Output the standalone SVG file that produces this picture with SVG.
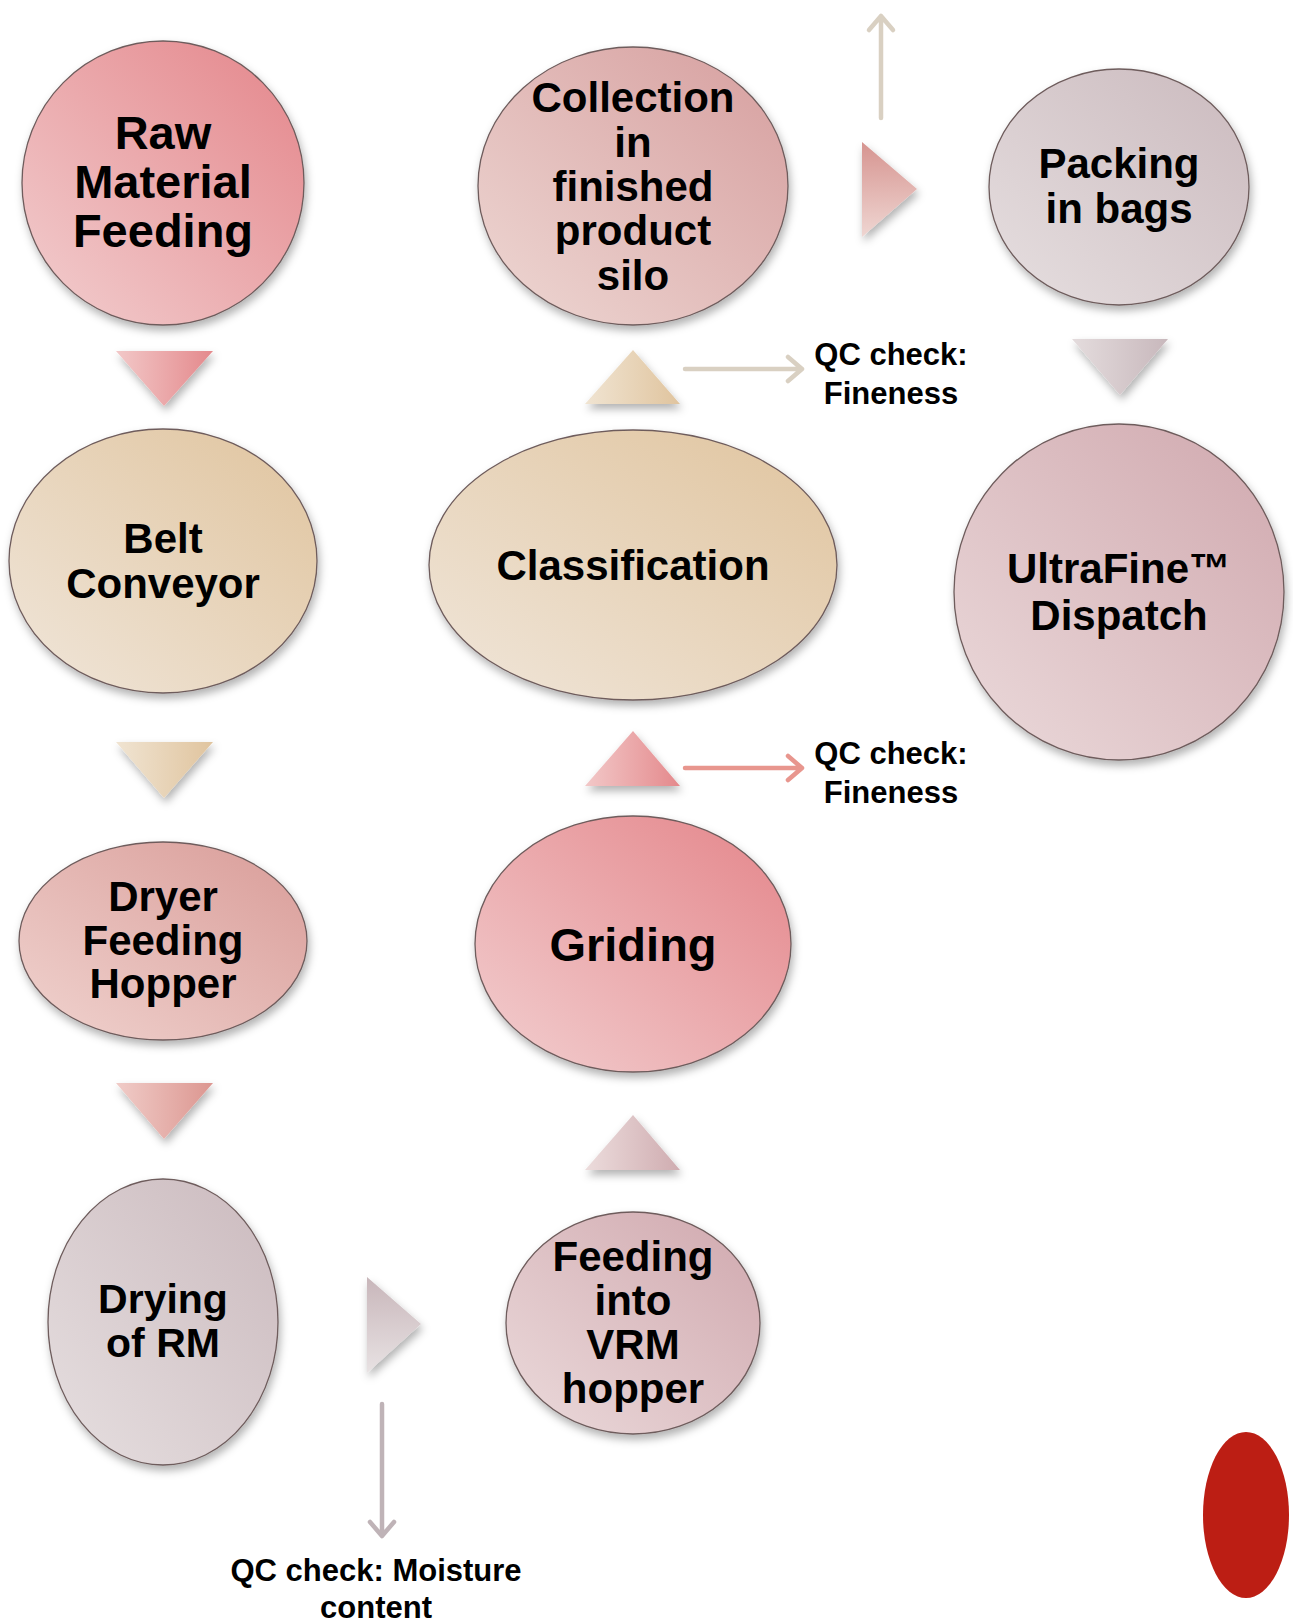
<svg xmlns="http://www.w3.org/2000/svg" width="1293" height="1621" viewBox="0 0 1293 1621">
<style>
.node{stroke:#6e5c5c;stroke-width:1.3;filter:url(#sh)}
.tri{filter:url(#sh)}
.t{font-family:"Liberation Sans",Arial,sans-serif;font-weight:bold;fill:#000;text-anchor:middle}
.qc{font-family:"Liberation Sans",Arial,sans-serif;font-weight:bold;fill:#000;text-anchor:middle;font-size:31px}
.arr{fill:none;stroke-width:4.5;stroke-linecap:round;stroke-linejoin:round}
</style>
<defs>
<filter id="sh" x="-20%" y="-20%" width="140%" height="150%">
<feDropShadow dx="2" dy="5" stdDeviation="4" flood-color="#000" flood-opacity="0.3"/>
</filter>
<linearGradient id="gPink" x1="0" y1="1" x2="1" y2="0"><stop offset="0" stop-color="#f2cfd0"/><stop offset="1" stop-color="#e4858a"/></linearGradient>
<linearGradient id="gBeige" x1="0" y1="1" x2="1" y2="0"><stop offset="0" stop-color="#f0e6da"/><stop offset="1" stop-color="#e0c49e"/></linearGradient>
<linearGradient id="gDryer" x1="0" y1="1" x2="1" y2="0"><stop offset="0" stop-color="#f0d3cf"/><stop offset="1" stop-color="#d99c98"/></linearGradient>
<linearGradient id="gGrey" x1="0" y1="1" x2="1" y2="0"><stop offset="0" stop-color="#e6dfe0"/><stop offset="1" stop-color="#cbbabe"/></linearGradient>
<linearGradient id="gMauve" x1="0" y1="1" x2="1" y2="0"><stop offset="0" stop-color="#ebdadb"/><stop offset="1" stop-color="#d0a8ae"/></linearGradient>
<linearGradient id="gColl" x1="0" y1="1" x2="1" y2="0"><stop offset="0" stop-color="#eed8d4"/><stop offset="1" stop-color="#d69e9e"/></linearGradient>
<linearGradient id="tPink" x1="0" y1="0" x2="1" y2="0"><stop offset="0" stop-color="#f2c8c8"/><stop offset="1" stop-color="#e4898c"/></linearGradient>
<linearGradient id="tBeige" x1="0" y1="0" x2="1" y2="0"><stop offset="0" stop-color="#f0e4d2"/><stop offset="1" stop-color="#e0c49e"/></linearGradient>
<linearGradient id="tDry" x1="0" y1="0" x2="1" y2="0"><stop offset="0" stop-color="#f0ccc8"/><stop offset="1" stop-color="#dc9690"/></linearGradient>
<linearGradient id="tGreyV" x1="0" y1="0" x2="0" y2="1"><stop offset="0" stop-color="#c8b6ba"/><stop offset="1" stop-color="#e8e2e3"/></linearGradient>
<linearGradient id="tGreyH" x1="0" y1="0" x2="1" y2="0"><stop offset="0" stop-color="#e4dcdd"/><stop offset="1" stop-color="#c8b8bc"/></linearGradient>
<linearGradient id="tMauve" x1="0" y1="0" x2="1" y2="0"><stop offset="0" stop-color="#ecdcdc"/><stop offset="1" stop-color="#cfacb0"/></linearGradient>
<linearGradient id="tCollV" x1="0" y1="0" x2="0" y2="1"><stop offset="0" stop-color="#d69490"/><stop offset="1" stop-color="#efd6d2"/></linearGradient>
</defs>
<rect width="1293" height="1621" fill="#fff"/>

<g id="connectors">
<polygon class="tri" points="116,351 213,351 164,406" fill="url(#tPink)"/>
<polygon class="tri" points="116,742 213,742 164,798" fill="url(#tBeige)"/>
<polygon class="tri" points="116,1083 213,1083 164,1139" fill="url(#tDry)"/>
<polygon class="tri" points="367,1277 367,1373 421,1324" fill="url(#tGreyV)"/>
<polygon class="tri" points="585,1170 680,1170 633,1115" fill="url(#tMauve)"/>
<polygon class="tri" points="585,786 680,786 633,731" fill="url(#tPink)"/>
<polygon class="tri" points="585,404 680,404 633,350" fill="url(#tBeige)"/>
<polygon class="tri" points="862,142 862,237 917,189" fill="url(#tCollV)"/>
<polygon class="tri" points="1072,339 1168,339 1120,395" fill="url(#tGreyH)"/>
<g class="arr" stroke="#d9d0c2"><path d="M881,118 V16 M869,30 L881,16 L893,30"/></g>
<g class="arr" stroke="#d9d0c2"><path d="M685,369 H802 M788,357 L802,369 L788,381"/></g>
<g class="arr" stroke="#e8968e"><path d="M685,768 H802 M788,756 L802,768 L788,780"/></g>
<g class="arr" stroke="#bfb3b7"><path d="M382,1404 V1536 M370,1522 L382,1536 L394,1522"/></g>
</g>

<g id="raw">
<ellipse class="node" cx="163" cy="183" rx="141" ry="142" fill="url(#gPink)"/>
<text class="t" font-size="47"><tspan x="163" y="149">Raw</tspan><tspan x="163" y="198">Material</tspan><tspan x="163" y="247">Feeding</tspan></text>
</g>
<g id="belt">
<ellipse class="node" cx="163" cy="561" rx="154" ry="132" fill="url(#gBeige)"/>
<text class="t" font-size="42"><tspan x="163" y="553">Belt</tspan><tspan x="163" y="598">Conveyor</tspan></text>
</g>
<g id="dryer">
<ellipse class="node" cx="163" cy="941" rx="144" ry="99" fill="url(#gDryer)"/>
<text class="t" font-size="42"><tspan x="163" y="911">Dryer</tspan><tspan x="163" y="955">Feeding</tspan><tspan x="163" y="998">Hopper</tspan></text>
</g>
<g id="drying">
<ellipse class="node" cx="163" cy="1322" rx="115" ry="143" fill="url(#gGrey)"/>
<text class="t" font-size="41"><tspan x="163" y="1313">Drying</tspan><tspan x="163" y="1357">of RM</tspan></text>
</g>
<g id="vrm">
<ellipse class="node" cx="633" cy="1323" rx="127" ry="111" fill="url(#gMauve)"/>
<text class="t" font-size="42"><tspan x="633" y="1271">Feeding</tspan><tspan x="633" y="1315">into</tspan><tspan x="633" y="1359">VRM</tspan><tspan x="633" y="1403">hopper</tspan></text>
</g>
<g id="griding">
<ellipse class="node" cx="633" cy="944" rx="158" ry="128" fill="url(#gPink)"/>
<text class="t" font-size="47" x="633" y="961">Griding</text>
</g>
<g id="classification">
<ellipse class="node" cx="633" cy="565" rx="204" ry="135" fill="url(#gBeige)"/>
<text class="t" font-size="42" x="633" y="580">Classification</text>
</g>
<g id="collection">
<ellipse class="node" cx="633" cy="186" rx="155" ry="139" fill="url(#gColl)"/>
<text class="t" font-size="42"><tspan x="633" y="112">Collection</tspan><tspan x="633" y="157">in</tspan><tspan x="633" y="201">finished</tspan><tspan x="633" y="245">product</tspan><tspan x="633" y="290">silo</tspan></text>
</g>
<g id="packing">
<ellipse class="node" cx="1119" cy="187" rx="130" ry="118" fill="url(#gGrey)"/>
<text class="t" font-size="42"><tspan x="1119" y="178">Packing</tspan><tspan x="1119" y="223">in bags</tspan></text>
</g>
<g id="dispatch">
<ellipse class="node" cx="1119" cy="592" rx="165" ry="168" fill="url(#gMauve)"/>
<text class="t" font-size="42"><tspan x="1119" y="583">UltraFine™</tspan><tspan x="1119" y="630">Dispatch</tspan></text>
</g>

<g id="qc1"><text class="qc"><tspan x="891" y="365">QC check:</tspan><tspan x="891" y="404">Fineness</tspan></text></g>
<g id="qc2"><text class="qc"><tspan x="891" y="764">QC check:</tspan><tspan x="891" y="803">Fineness</tspan></text></g>
<g id="qc3"><text class="qc" font-size="32.5"><tspan x="376" y="1581">QC check: Moisture</tspan><tspan x="376" y="1618">content</tspan></text></g>

<ellipse id="red" cx="1246" cy="1515" rx="43" ry="83" fill="#bc1e14"/>
</svg>
